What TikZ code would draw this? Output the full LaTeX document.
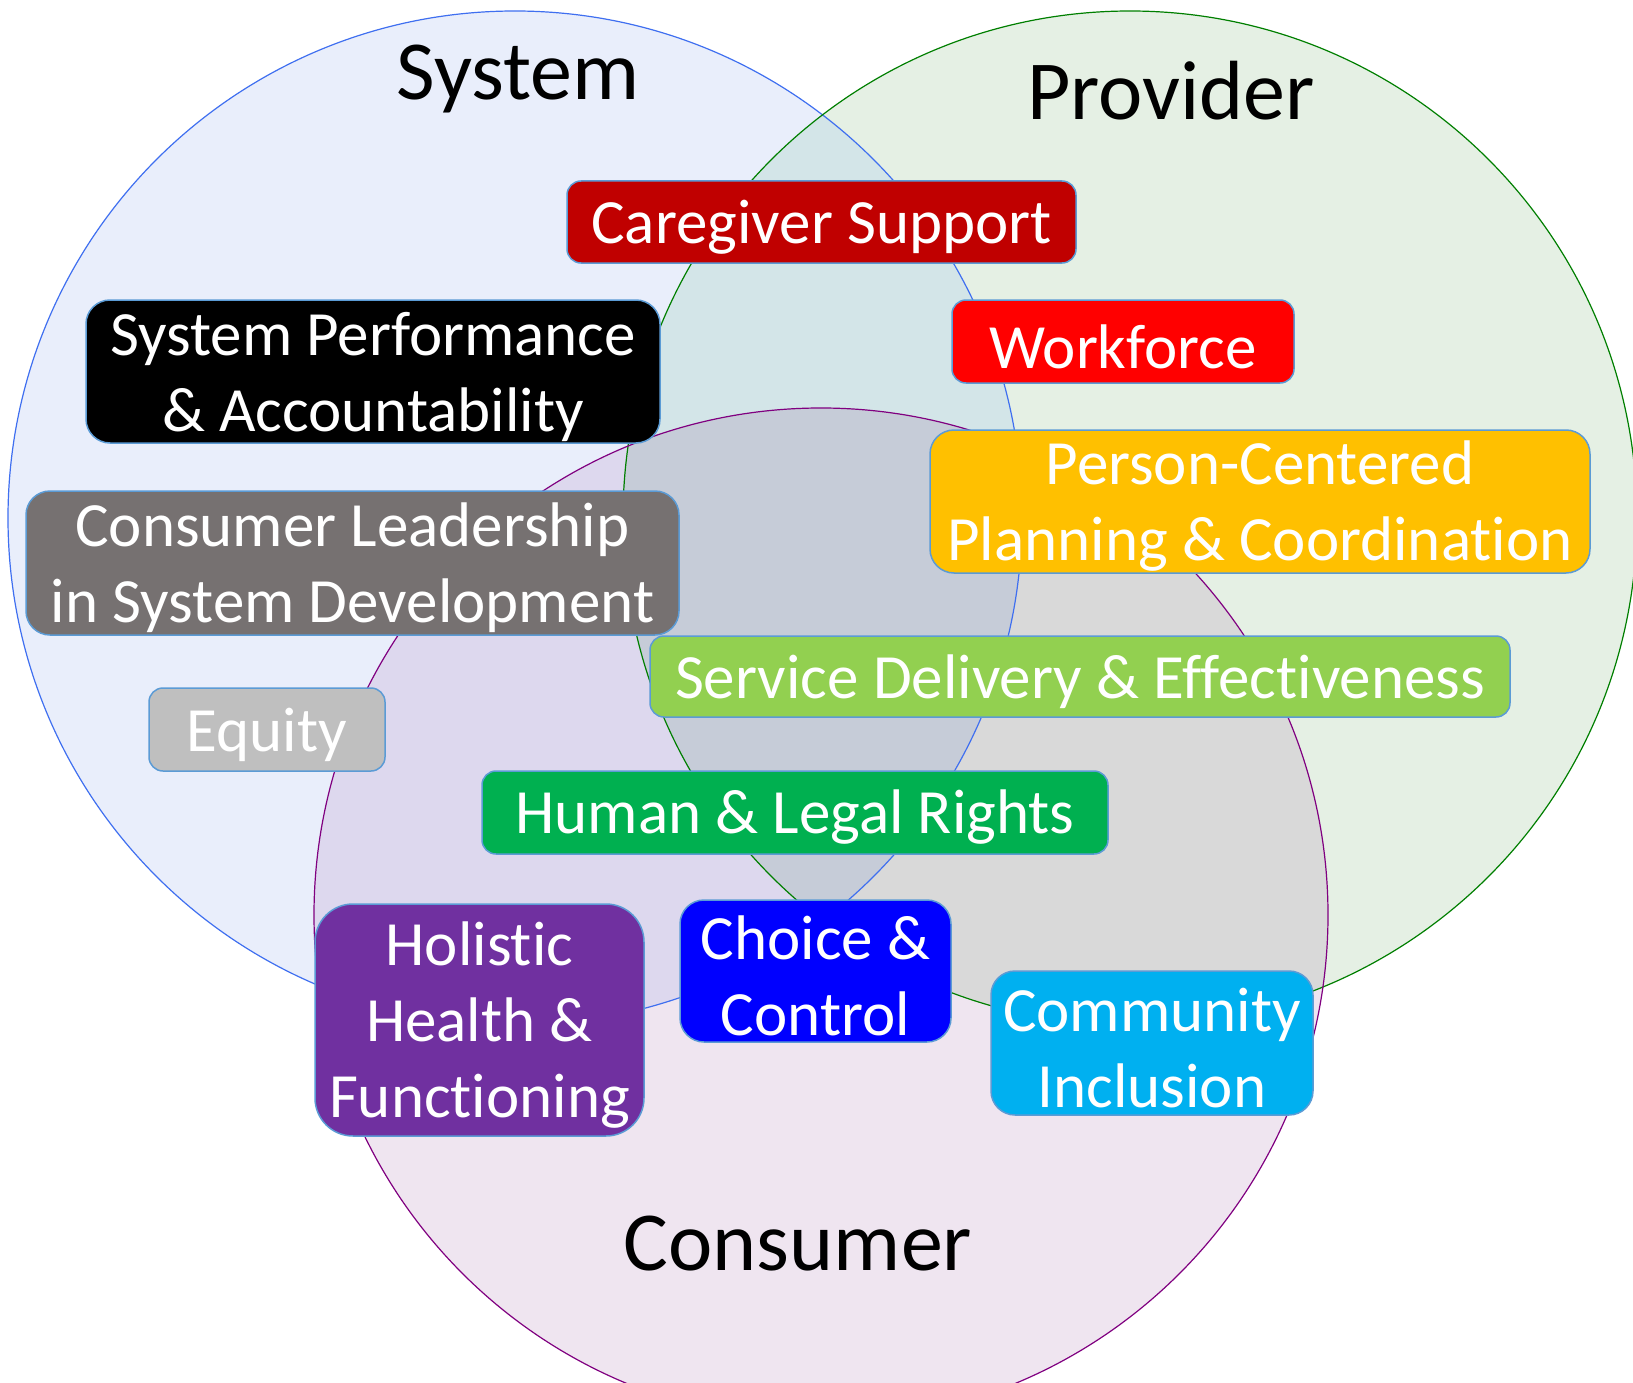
\documentclass[tikz,border=0pt]{standalone}
\usepackage{fontspec}
\setmainfont{Carlito}[Ligatures={NoCommon}]
\usepackage{xcolor}

% region fills
\definecolor{sysonly}{HTML}{E9EEFB}
\definecolor{provonly}{HTML}{E5F0E4}
\definecolor{consonly}{HTML}{EFE5F0}
\definecolor{sysprov}{HTML}{D3E5E8}
\definecolor{syscons}{HTML}{DDD8EE}
\definecolor{provcons}{HTML}{D9D9D9}
\definecolor{allthree}{HTML}{C6CCD8}
% outlines
\definecolor{sysline}{HTML}{3F6FF0}
\definecolor{provline}{HTML}{007F00}
\definecolor{consline}{HTML}{800080}
\definecolor{tileline}{HTML}{5B9BD5}
% tiles
\definecolor{caregiver}{HTML}{C00000}
\definecolor{workforce}{HTML}{FF0000}
\definecolor{personcentred}{HTML}{FFC000}
\definecolor{leadership}{HTML}{767171}
\definecolor{service}{HTML}{92D050}
\definecolor{equity}{HTML}{BFBFBF}
\definecolor{rights}{HTML}{00B050}
\definecolor{holistic}{HTML}{7030A0}
\definecolor{choice}{HTML}{0000FF}
\definecolor{community}{HTML}{00B0F0}

\begin{document}
\begin{tikzpicture}[x=1pt,y=-1pt,
    tile/.style={draw=tileline, line width=1.5pt, inner sep=0pt},
    tiletext/.style={text=white, align=center, inner sep=0pt, yshift=-5pt,
      font=\fontsize{63}{76}\selectfont},
    title/.style={font=\fontsize{84}{100}\selectfont, anchor=base}]
    \useasboundingbox (0,0) rectangle (1633,1383);
    % circle centres
    \coordinate (S) at (515,518);
    \coordinate (P) at (1130,518);
    \coordinate (C) at (821,915);
    \def\rad{507pt}

    % Circles
    \fill[sysonly] (S) circle (\rad);
    \fill[provonly] (P) circle (\rad);
    \fill[consonly] (C) circle (\rad);
    \begin{scope}
      \clip (S) circle (\rad);
      \fill[sysprov] (P) circle (\rad);
      \fill[syscons] (C) circle (\rad);
      \clip (P) circle (\rad);
      \fill[allthree] (C) circle (\rad);
    \end{scope}
    \begin{scope}
      \clip (P) circle (\rad);
      \clip (C) circle (\rad);
      \fill[provcons] ([xshift=-600pt,yshift=600pt]P) rectangle ([xshift=600pt,yshift=-600pt]C);
      \clip (S) circle (\rad);
      \fill[allthree] (C) circle (\rad);
    \end{scope}
    \draw[sysline, line width=1.2pt] (S) circle (\rad);
    \draw[provline, line width=1.2pt] (P) circle (\rad);
    \draw[consline, line width=1.2pt] (C) circle (\rad);

    \node[title] (system) at (518,100) {System};
    \node[title] (provider) at (1171,120) {Provider};
    \node[title] (consumer) at (798,1270) {Consumer};

    % Tiles
    \node[tile, fill=caregiver, rounded corners=14pt, minimum width=509pt, minimum height=82pt,
      label={[tiletext]center:Caregiver Support}] (care) at (821.5,222) {};
    \node[tile, fill=workforce, rounded corners=14pt, minimum width=342pt, minimum height=83pt,
      label={[tiletext]center:Workforce}] (work) at (1123,341.5) {};
    \node[tile, fill=black, rounded corners=24pt, minimum width=574pt, minimum height=143pt,
      label={[tiletext]center:{System Performance\\ \& Accountability}}] (perf) at (373,371.5) {};
    \node[tile, fill=personcentred, rounded corners=24pt, minimum width=660pt, minimum height=143pt,
      label={[tiletext]center:{Person-Centered\\ Planning \& Coordination}}] (pcp) at (1260,501.5) {};
    \node[tile, fill=leadership, rounded corners=24pt, minimum width=653pt, minimum height=144pt,
      label={[tiletext]center:{Consumer Leadership\\ in System Development}}] (lead) at (352.5,563) {};
    \node[tile, fill=service, rounded corners=14pt, minimum width=860pt, minimum height=81pt,
      label={[tiletext]center:Service Delivery \& Effectiveness}] (serv) at (1080,676.5) {};
    \node[tile, fill=equity, rounded corners=14pt, minimum width=236pt, minimum height=83pt,
      label={[tiletext]center:Equity}] (eq) at (267,729.5) {};
    \node[tile, fill=rights, rounded corners=14pt, minimum width=626pt, minimum height=83pt,
      label={[tiletext]center:Human \& Legal Rights}] (rights) at (795,812.5) {};
    \node[tile, fill=holistic, rounded corners=38pt, minimum width=329pt, minimum height=232pt,
      label={[tiletext]center:{Holistic\\ Health \&\\ Functioning}}] (health) at (479.5,1020) {};
    \node[tile, fill=choice, rounded corners=24pt, minimum width=271pt, minimum height=142pt,
      label={[tiletext]center:{Choice \&\\ Control}}] (choice) at (815.5,971) {};
    \node[tile, fill=community, rounded corners=24pt, minimum width=322pt, minimum height=144pt,
      label={[tiletext]center:{Community\\ Inclusion}}] (comm) at (1152,1043) {};
\end{tikzpicture}
\end{document}
